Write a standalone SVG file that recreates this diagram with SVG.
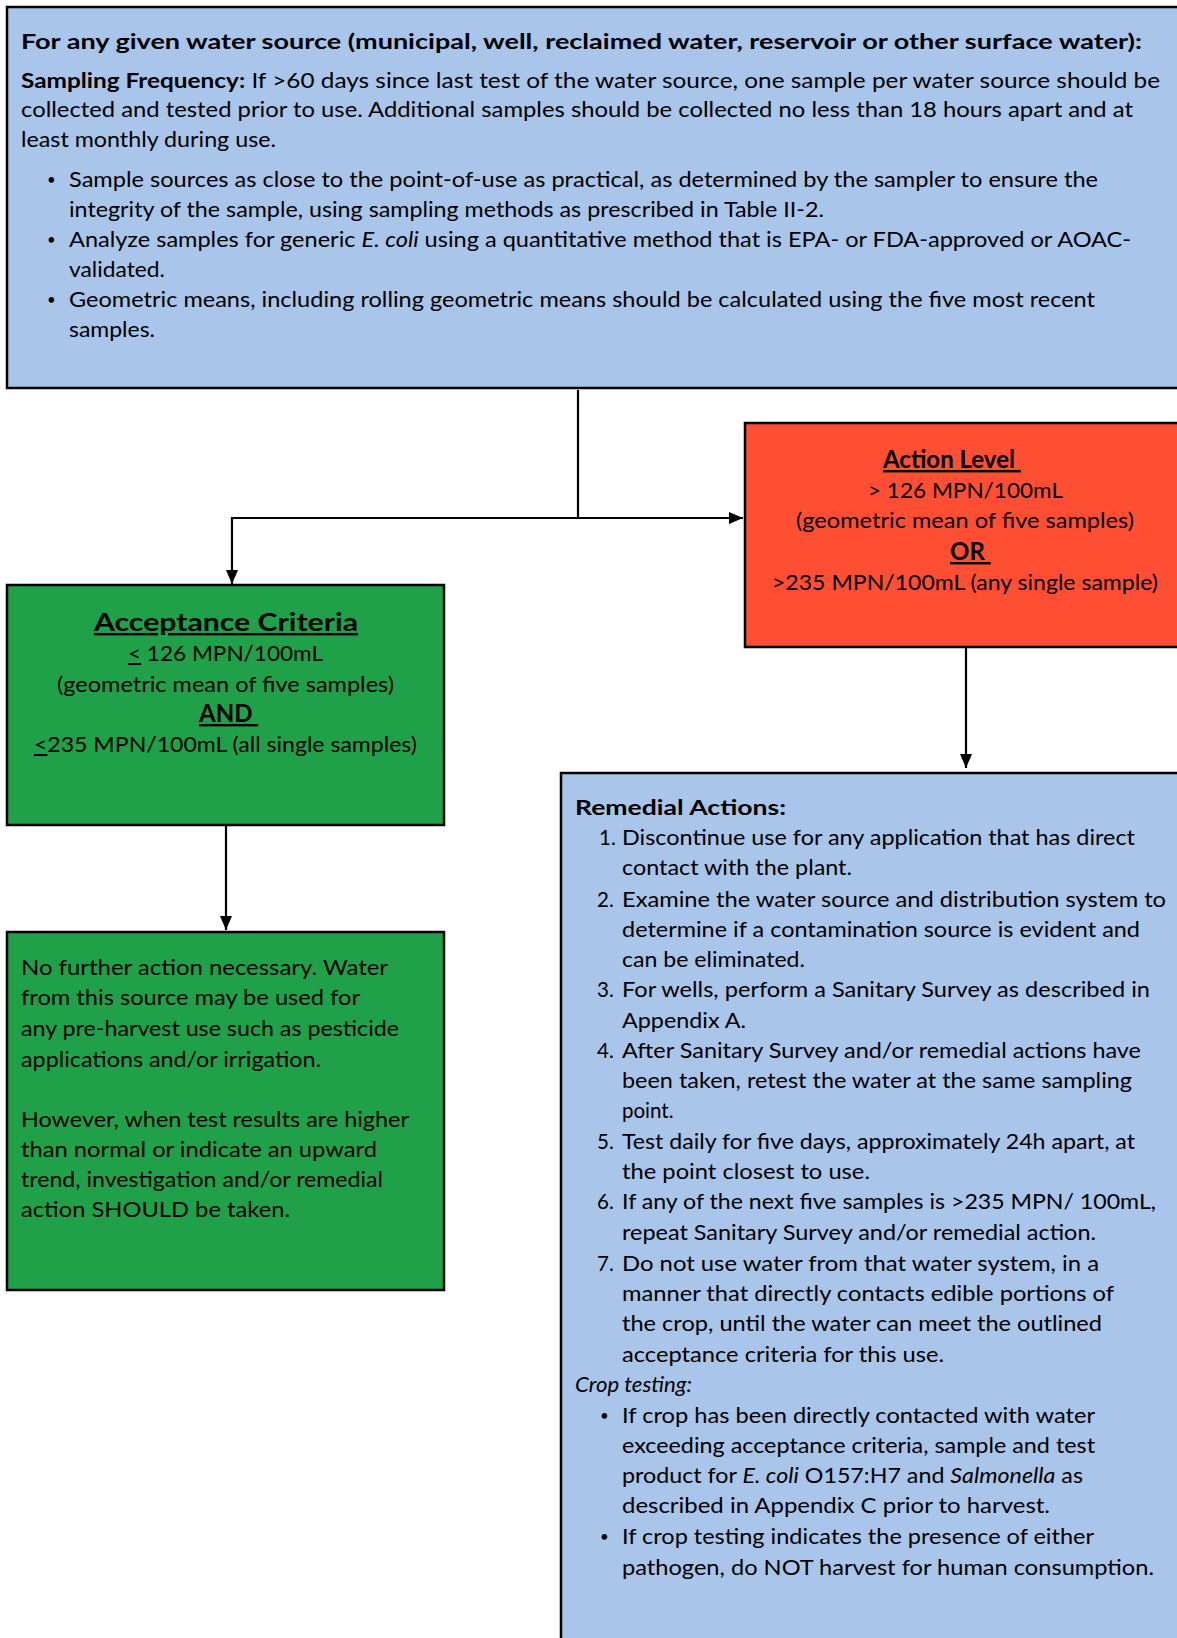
<svg xmlns="http://www.w3.org/2000/svg" width="1177" height="1638" viewBox="0 0 1177 1638">
<defs>
<marker id="arr" markerUnits="userSpaceOnUse" markerWidth="14" markerHeight="16" viewBox="0 0 14 16" refX="14" refY="8" orient="auto">
<path d="M0,2 L14,8 L0,14 Z" fill="#000"/>
</marker>
<style>
.box{stroke:#000;stroke-width:2.5}
.blue{fill:#aac5ea}
.green{fill:#21a04a}
.red{fill:#fe4e33}
.t{font-family:Lato,"Open Sans","Liberation Sans",sans-serif;font-size:20.5px;fill:#000}
.bl{font-family:Lato,"Open Sans","Liberation Sans",sans-serif;font-size:15px;fill:#000}
.b{font-weight:bold}
.i{font-style:italic}
.h{font-family:Lato,"Open Sans","Liberation Sans",sans-serif;font-size:24px;font-weight:bold;fill:#000;text-decoration:underline}
.u{text-decoration:underline}
.conn{fill:none;stroke:#000;stroke-width:2.2}
</style>
</defs>
<rect width="1177" height="1638" fill="#fff"/>

<g id="sampling">
<rect class="box blue" x="7" y="7" width="1185" height="381"/>
<text class="t b" x="21" y="49" textLength="1121" lengthAdjust="spacingAndGlyphs">For any given water source (municipal, well, reclaimed water, reservoir or other surface water):</text>
<text class="t" x="21" y="88" textLength="1139" lengthAdjust="spacingAndGlyphs"><tspan class="b">Sampling Frequency:</tspan> If &gt;60 days since last test of the water source, one sample per water source should be</text>
<text class="t" x="21" y="117" textLength="1112" lengthAdjust="spacingAndGlyphs">collected and tested prior to use. Additional samples should be collected no less than 18 hours apart and at</text>
<text class="t" x="21" y="147" textLength="255" lengthAdjust="spacingAndGlyphs">least monthly during use.</text>
<text class="bl" x="47" y="185">•</text>
<text class="t" x="69" y="187" textLength="1029" lengthAdjust="spacingAndGlyphs">Sample sources as close to the point-of-use as practical, as determined by the sampler to ensure the</text>
<text class="t" x="69" y="217" textLength="755" lengthAdjust="spacingAndGlyphs">integrity of the sample, using sampling methods as prescribed in Table II-2.</text>
<text class="bl" x="47" y="245">•</text>
<text class="t" x="69" y="247" textLength="1062" lengthAdjust="spacingAndGlyphs">Analyze samples for generic <tspan class="i">E. coli</tspan> using a quantitative method that is EPA- or FDA-approved or AOAC-</text>
<text class="t" x="69" y="277" textLength="96" lengthAdjust="spacingAndGlyphs">validated.</text>
<text class="bl" x="47" y="305">•</text>
<text class="t" x="69" y="307" textLength="1026" lengthAdjust="spacingAndGlyphs">Geometric means, including rolling geometric means should be calculated using the five most recent</text>
<text class="t" x="69" y="337" textLength="86" lengthAdjust="spacingAndGlyphs">samples.</text>
</g>

<g id="acceptance">
<rect class="box green" x="7" y="585" width="437" height="240"/>
<text class="h" x="94" y="631" textLength="264" lengthAdjust="spacingAndGlyphs">Acceptance Criteria</text>
<text class="t" x="128" y="661" textLength="195" lengthAdjust="spacingAndGlyphs"><tspan class="u">&lt;</tspan> 126 MPN/100mL</text>
<text class="t" x="57" y="692" textLength="337" lengthAdjust="spacingAndGlyphs">(geometric mean of five samples)</text>
<text class="h" x="199" y="722">AND&#160;</text>
<text class="t" x="34" y="752" textLength="383" lengthAdjust="spacingAndGlyphs"><tspan class="u">&lt;</tspan>235 MPN/100mL (all single samples)</text>
</g>

<g id="action-level">
<rect class="box red" x="745" y="423" width="450" height="224"/>
<text class="h" x="883" y="468">Action Level&#160;</text>
<text class="t" x="868" y="498" textLength="195" lengthAdjust="spacingAndGlyphs">&gt; 126 MPN/100mL</text>
<text class="t" x="796" y="528" textLength="338" lengthAdjust="spacingAndGlyphs">(geometric mean of five samples)</text>
<text class="h" x="950" y="560">OR&#160;</text>
<text class="t" x="772" y="590" textLength="386" lengthAdjust="spacingAndGlyphs">&gt;235 MPN/100mL (any single sample)</text>
</g>

<g id="no-further-action">
<rect class="box green" x="7" y="932" width="437" height="358"/>
<text class="t" x="21" y="975" textLength="367" lengthAdjust="spacingAndGlyphs">No further action necessary.  Water</text>
<text class="t" x="21" y="1005" textLength="339" lengthAdjust="spacingAndGlyphs">from this source may be used for</text>
<text class="t" x="21" y="1036" textLength="378" lengthAdjust="spacingAndGlyphs">any pre-harvest use such as pesticide</text>
<text class="t" x="21" y="1067" textLength="300" lengthAdjust="spacingAndGlyphs">applications and/or irrigation.</text>
<text class="t" x="21" y="1127" textLength="388" lengthAdjust="spacingAndGlyphs">However, when test results are higher</text>
<text class="t" x="21" y="1157" textLength="356" lengthAdjust="spacingAndGlyphs">than normal or indicate an upward</text>
<text class="t" x="21" y="1187" textLength="362" lengthAdjust="spacingAndGlyphs">trend, investigation and/or remedial</text>
<text class="t" x="21" y="1217" textLength="269" lengthAdjust="spacingAndGlyphs">action SHOULD be taken.</text>
</g>

<g id="remedial-actions">
<rect class="box blue" x="561" y="773" width="640" height="880"/>
<text class="t b" x="575" y="815" textLength="211" lengthAdjust="spacingAndGlyphs">Remedial Actions:</text>
<text class="t" x="599" y="845">1.</text>
<text class="t" x="622" y="845" textLength="513" lengthAdjust="spacingAndGlyphs">Discontinue use for any application that has direct</text>
<text class="t" x="622" y="875" textLength="230" lengthAdjust="spacingAndGlyphs">contact with the plant.</text>
<text class="t" x="597" y="907">2.</text>
<text class="t" x="622" y="907" textLength="544" lengthAdjust="spacingAndGlyphs">Examine the water source and distribution system to</text>
<text class="t" x="622" y="937" textLength="518" lengthAdjust="spacingAndGlyphs">determine if a contamination source is evident and</text>
<text class="t" x="622" y="967" textLength="183" lengthAdjust="spacingAndGlyphs">can be eliminated.</text>
<text class="t" x="597" y="997">3.</text>
<text class="t" x="622" y="997" textLength="528" lengthAdjust="spacingAndGlyphs">For wells, perform a Sanitary Survey as described in</text>
<text class="t" x="622" y="1028" textLength="124" lengthAdjust="spacingAndGlyphs">Appendix A.</text>
<text class="t" x="597" y="1058">4.</text>
<text class="t" x="622" y="1058" textLength="519" lengthAdjust="spacingAndGlyphs">After Sanitary Survey and/or remedial actions have</text>
<text class="t" x="622" y="1088" textLength="510" lengthAdjust="spacingAndGlyphs">been taken, retest the water at the same sampling</text>
<text class="t" x="622" y="1118">point.</text>
<text class="t" x="597" y="1149">5.</text>
<text class="t" x="622" y="1149" textLength="513" lengthAdjust="spacingAndGlyphs">Test daily for five days, approximately 24h apart, at</text>
<text class="t" x="622" y="1179" textLength="248" lengthAdjust="spacingAndGlyphs">the point closest to use.</text>
<text class="t" x="597" y="1209">6.</text>
<text class="t" x="622" y="1209" textLength="534" lengthAdjust="spacingAndGlyphs">If any of the next five samples is &gt;235 MPN/ 100mL,</text>
<text class="t" x="622" y="1240" textLength="474" lengthAdjust="spacingAndGlyphs">repeat Sanitary Survey and/or remedial action.</text>
<text class="t" x="597" y="1271">7.</text>
<text class="t" x="622" y="1271" textLength="477" lengthAdjust="spacingAndGlyphs">Do not use water from that water system, in a</text>
<text class="t" x="622" y="1301" textLength="492" lengthAdjust="spacingAndGlyphs">manner that directly contacts edible portions of</text>
<text class="t" x="622" y="1331" textLength="480" lengthAdjust="spacingAndGlyphs">the crop, until the water can meet the outlined</text>
<text class="t" x="622" y="1362" textLength="322" lengthAdjust="spacingAndGlyphs">acceptance criteria for this use.</text>
<text class="t i" x="575" y="1392" textLength="117" lengthAdjust="spacingAndGlyphs">Crop testing:</text>
<text class="bl" x="600" y="1421">•</text>
<text class="t" x="622" y="1423" textLength="473" lengthAdjust="spacingAndGlyphs">If crop has been directly contacted with water</text>
<text class="t" x="622" y="1453" textLength="473" lengthAdjust="spacingAndGlyphs">exceeding acceptance criteria, sample and test</text>
<text class="t" x="622" y="1483" textLength="461" lengthAdjust="spacingAndGlyphs">product for <tspan class="i">E. coli</tspan> O157:H7 and <tspan class="i">Salmonella</tspan> as</text>
<text class="t" x="622" y="1513" textLength="428" lengthAdjust="spacingAndGlyphs">described in Appendix C prior to harvest.</text>
<text class="bl" x="600" y="1542">•</text>
<text class="t" x="622" y="1544" textLength="472" lengthAdjust="spacingAndGlyphs">If crop testing indicates the presence of either</text>
<text class="t" x="622" y="1575" textLength="532" lengthAdjust="spacingAndGlyphs">pathogen, do NOT harvest for human consumption.</text>
</g>

<g id="connectors">
<path class="conn" d="M578 390 V518 H232 V584" marker-end="url(#arr)"/>
<path class="conn" d="M578 518 H743" marker-end="url(#arr)"/>
<path class="conn" d="M966 648 V768" marker-end="url(#arr)"/>
<path class="conn" d="M226 826 V930" marker-end="url(#arr)"/>
</g>
</svg>
